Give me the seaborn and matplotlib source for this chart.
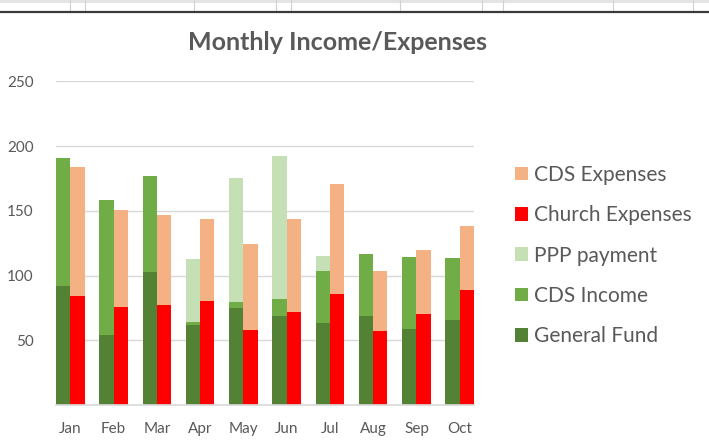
import numpy as np
import pandas as pd
import matplotlib
matplotlib.use("Agg")
import matplotlib.pyplot as plt
import seaborn as sns
from matplotlib.patches import Patch, Rectangle
from matplotlib.lines import Line2D

# data
months = ["Jan", "Feb", "Mar", "Apr", "May", "Jun", "Jul", "Aug", "Sep", "Oct"]
general_fund = [92, 54, 103, 62, 75, 69, 63, 69, 59, 66]
cds_income = [99, 104, 74, 2, 4.5, 12.5, 40.5, 47.5, 55, 47.5]
ppp_payment = [0, 0, 0, 49, 96, 111, 11.5, 0, 0, 0]
church_exp = [84, 76, 77, 80.5, 58, 71.5, 86, 57, 70.5, 89]
cds_exp = [100, 74.5, 70, 63.5, 66.5, 72.5, 85, 46.5, 49.5, 49.5]

COLORS = {
    "General Fund": "#548235",
    "CDS Income": "#70AD47",
    "PPP payment": "#C5E0B4",
    "Church Expenses": "#FF0000",
    "CDS Expenses": "#F4B183",
}
TXT = "#595959"
W = 0.33

sns.set_theme(style="white")
plt.rcParams["font.family"] = ["Lato", "DejaVu Sans"]

df = pd.DataFrame({
    "pos": np.arange(len(months)),
    "gf": general_fund, "cds_in": cds_income, "ppp": ppp_payment,
    "church": church_exp, "cds_out": cds_exp,
})
df["x_in"] = df["pos"] - W / 2
df["x_out"] = df["pos"] + W / 2

fig = plt.figure(figsize=(7.09, 4.44), dpi=100)
ax = fig.add_axes([56 / 709, 39 / 444, 418 / 709, 323.7 / 444])

# income stack
sns.barplot(data=df, x="x_in", y="gf", native_scale=True, width=W,
            color=COLORS["General Fund"], saturation=1, ax=ax, linewidth=0)
sns.barplot(data=df, x="x_in", y="cds_in", native_scale=True, width=W,
            bottom=df["gf"], color=COLORS["CDS Income"], saturation=1, ax=ax, linewidth=0)
sns.barplot(data=df, x="x_in", y="ppp", native_scale=True, width=W,
            bottom=df["gf"] + df["cds_in"], color=COLORS["PPP payment"], saturation=1,
            ax=ax, linewidth=0)
# expense stack
sns.barplot(data=df, x="x_out", y="church", native_scale=True, width=W,
            color=COLORS["Church Expenses"], saturation=1, ax=ax, linewidth=0)
sns.barplot(data=df, x="x_out", y="cds_out", native_scale=True, width=W,
            bottom=df["church"], color=COLORS["CDS Expenses"], saturation=1, ax=ax, linewidth=0)

ax.set_xlim(-W, len(months) - 1 + W)
ax.set_ylim(0, 250)
ax.set_yticks([50, 100, 150, 200, 250])
ax.set_xticks(np.arange(len(months)))
ax.set_xticklabels(months)
ax.yaxis.grid(True, color="#D9D9D9", linewidth=1)
ax.set_axisbelow(True)
for s in ["top", "right", "left"]:
    ax.spines[s].set_visible(False)
ax.spines["bottom"].set_color("#D9D9D9")
ax.tick_params(axis="both", length=0, colors=TXT, labelsize=11)
ax.tick_params(axis="y", pad=16)
ax.tick_params(axis="x", pad=12)
ax.set_xlabel("")
ax.set_ylabel("")

fig.text(337 / 709, 1 - 43 / 444, "Monthly Income/Expenses", ha="center", va="center",
         fontsize=18, fontweight="bold", color=TXT)

order = ["CDS Expenses", "Church Expenses", "PPP payment", "CDS Income", "General Fund"]
handles = [Patch(facecolor=COLORS[k], edgecolor="none", label=k) for k in order]
leg = fig.legend(handles=handles, loc="center left", bbox_to_anchor=(515 / 709, 1 - 255.5 / 444),
                 frameon=False, fontsize=15, handlelength=0.63, handleheight=0.63,
                 handletextpad=0.3, labelspacing=0.98, borderpad=0, borderaxespad=0)
for t in leg.get_texts():
    t.set_color(TXT)

# spreadsheet strip at the top of the screenshot
fig.add_artist(Rectangle((0, 1 - 3.5 / 444), 1, 3.5 / 444, transform=fig.transFigure,
                         facecolor="#E4E4E4", edgecolor="none"))
for xv in [70, 85, 194, 276, 291, 400, 482, 503, 613, 693]:
    fig.add_artist(Line2D([xv / 709, xv / 709], [1 - 12 / 444, 1], transform=fig.transFigure,
                          color="#D0D0D0", linewidth=0.8))
fig.add_artist(Line2D([0, 1], [1 - 12.5 / 444, 1 - 12.5 / 444], transform=fig.transFigure,
                      color="#3A3A3A", linewidth=1.6))

fig.savefig("out.png", dpi=100)
